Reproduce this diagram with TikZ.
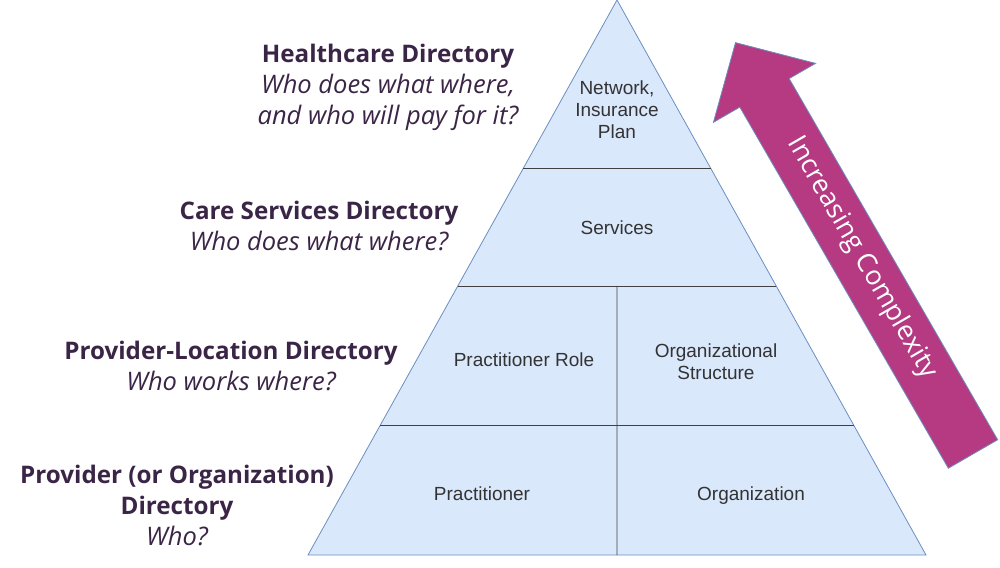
\documentclass[tikz,border=0pt]{standalone}
\usepackage{fontspec}
\setmainfont{Liberation Sans}
\newfontfamily\labelfont{Open Sans}
\usepackage{tikz}
\usetikzlibrary{calc}

\definecolor{pyrfill}{HTML}{DAE8FC}
\definecolor{pyredge}{HTML}{6C8EBF}
\definecolor{arrowfill}{HTML}{B53A82}
\definecolor{dirtext}{HTML}{3B2547}
\definecolor{celltext}{HTML}{333333}

\newcommand{\dirq}[1]{{\fontsize{25.5}{31}\selectfont\itshape #1}}

\tikzset{
	cell/.style={text=celltext, font=\fontsize{19}{22}\selectfont, align=center},
	dirlabel/.style={text=dirtext, font=\labelfont\fontsize{24.2}{31}\selectfont, align=center},
	divider/.style={black!75, line width=0.7pt}
}

\begin{document}
\begin{tikzpicture}[x=1pt,y=-1pt]
		\useasboundingbox (0,0) rectangle (1000,567);
		\coordinate (A) at (617,0);
		\coordinate (B) at (926,555);
		\coordinate (C) at (308,555);
		
		% pyramid and its levels
		\draw[pyredge, fill=pyrfill, line width=0.8pt] (A) -- (B) -- (C) -- cycle;
		\coordinate (L1) at ($(A)!0.3027!(C)$);
		\coordinate (R1) at ($(A)!0.3027!(B)$);
		\coordinate (L2) at ($(A)!0.5153!(C)$);
		\coordinate (R2) at ($(A)!0.5153!(B)$);
		\coordinate (L3) at ($(A)!0.7658!(C)$);
		\coordinate (R3) at ($(A)!0.7658!(B)$);
		\draw[divider] (L1) -- (R1);
		\draw[divider] (L2) -- (R2);
		\draw[divider] (L3) -- (R3);
		\draw[divider] ($(L2)!0.5!(R2)$) -- ($(C)!0.5!(B)$);
		
		\node[cell] (network) at (617,110) {Network,\\Insurance\\Plan};
		\node[cell] (services) at (617,228) {Services};
		\node[cell] (role) at (524,360) {Practitioner Role};
		\node[cell] (structure) at (716,362) {Organizational\\Structure};
		\node[cell] (practitioner) at (482,494) {Practitioner};
		\node[cell] (organization) at (751,496) {Organization};
		
		% directory labels
		\node[dirlabel] (healthcare) at (388,87)
			{\textbf{Healthcare Directory}\\\dirq{Who does what where,}\\\dirq{and who will pay for it?}};
		\node[dirlabel] (care) at (319,226)
			{\textbf{Care Services Directory}\\\dirq{Who does what where?}};
		\node[dirlabel] (location) at (231,366)
			{\textbf{Provider-Location Directory}\\\dirq{Who works where?}};
		\node[dirlabel] (provider) at (177,505)
			{\textbf{Provider (or Organization)}\\\textbf{Directory}\\\dirq{Who?}};
		
		% complexity arrow
		\begin{scope}[shift={(973,454)}, rotate=120]
			\draw[pyredge, fill=arrowfill, line width=0.8pt] (0,-28.5) -- (417,-28.5) -- (417,-59)
				-- (475,0) -- (417,59) -- (417,28.5) -- (0,28.5) -- cycle;
		\end{scope}
		\node[text=white, font=\labelfont\fontsize{26.8}{30}\selectfont, rotate=-60]
			(complexity) at (862,258) {Increasing Complexity};
	\end{tikzpicture}
\end{document}
